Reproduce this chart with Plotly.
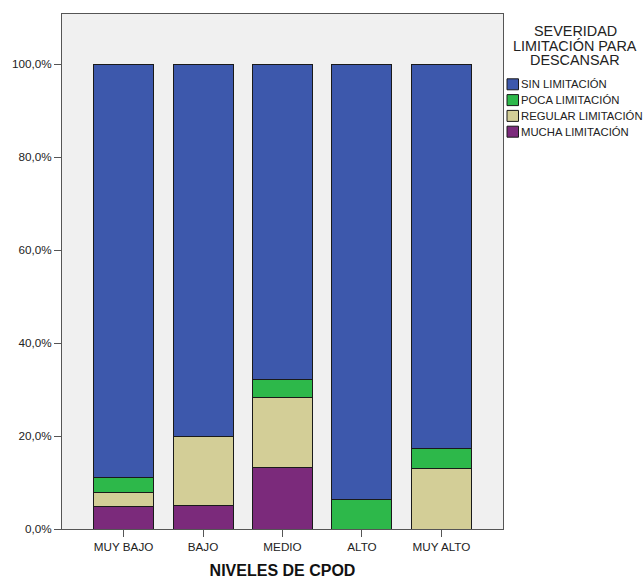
import plotly.graph_objects as go

categories = ["MUY BAJO", "BAJO", "MEDIO", "ALTO", "MUY ALTO"]
series_names = ["MUCHA LIMITACIÓN", "REGULAR LIMITACIÓN", "POCA LIMITACIÓN", "SIN LIMITACIÓN"]
mucha = [4.76, 5.00, 13.21, 0.00, 0.00]
regular = [3.17, 15.00, 15.09, 0.00, 13.04]
poca = [3.17, 0.00, 3.77, 6.25, 4.35]
sin = [88.90, 80.00, 67.93, 93.75, 82.61]
colors = ["#7B2A7B", "#D3CE97", "#2DB84A", "#3D58AC"]
tick_vals = [0, 20, 40, 60, 80, 100]
tick_text = ["0,0%", "20,0%", "40,0%", "60,0%", "80,0%", "100,0%"]
legend_title_lines = ["SEVERIDAD", "LIMITACIÓN PARA", "DESCANSAR"]

fig = go.Figure()
for name, vals, col in zip(series_names, [mucha, regular, poca, sin], colors):
    fig.add_trace(go.Bar(
        x=categories, y=vals, name=name, width=0.755,
        marker=dict(color=col, line=dict(color="#1a1a1a", width=1)),
        showlegend=False,
    ))

W, H = 644, 581
L, R, T, B = 62, 503, 14, 529
fig.update_layout(
    width=W, height=H,
    barmode="stack",
    margin=dict(l=L, r=W - R, t=T, b=H - B),
    plot_bgcolor="#F0F0F0",
    paper_bgcolor="white",
    font=dict(family="Liberation Sans, Arial, sans-serif", size=11.7, color="#222"),
)
fig.update_xaxes(
    range=[-0.775, 4.775], showline=True, linecolor="#555", linewidth=1, mirror=True,
    ticks="outside", ticklen=7, tickcolor="#555", showgrid=False, automargin=False,
    tickfont=dict(size=11.7, color="#222"),
    title=dict(text="<b>NIVELES DE CPOD</b>", font=dict(size=16, color="#111"), standoff=12),
)
fig.update_yaxes(
    range=[0, 110.8], tickvals=tick_vals, ticktext=tick_text,
    showline=True, linecolor="#555", linewidth=1, mirror=True, automargin=False,
    ticks="outside", ticklen=7, tickcolor="#555", showgrid=False, zeroline=False,
    tickfont=dict(size=11.7, color="#222"),
)

pw, ph = R - L, B - T
def px_x(x):
    return (x - L) / pw
def px_y(y):
    return 1 - (y - T) / ph

# Custom legend
for i, line in enumerate(legend_title_lines):
    fig.add_annotation(
        text=line, xref="paper", yref="paper",
        x=px_x(575.3), y=px_y(31.3 + i * 14.6), xanchor="center", yanchor="middle",
        showarrow=False, borderpad=0, font=dict(size=14.4, color="#222"),
    )
legend_names = series_names[::-1]
legend_cols = colors[::-1]
for i, (nm, col) in enumerate(zip(legend_names, legend_cols)):
    yc = 84.3 + i * 15.8
    fig.add_shape(type="rect", xref="paper", yref="paper",
                  x0=px_x(507), x1=px_x(518.5),
                  y0=px_y(yc + 5.5), y1=px_y(yc - 5.5),
                  fillcolor=col, line=dict(color="#1a1a1a", width=1))
    fig.add_annotation(text=nm, xref="paper", yref="paper",
                       x=px_x(519), y=px_y(yc),
                       xanchor="left", yanchor="middle", showarrow=False,
                       font=dict(size=11.3, color="#222"))

fig.write_html("out.html",
               config={"displayModeBar": False},
               post_script="document.body.style.margin='0';document.body.style.padding='0';")
